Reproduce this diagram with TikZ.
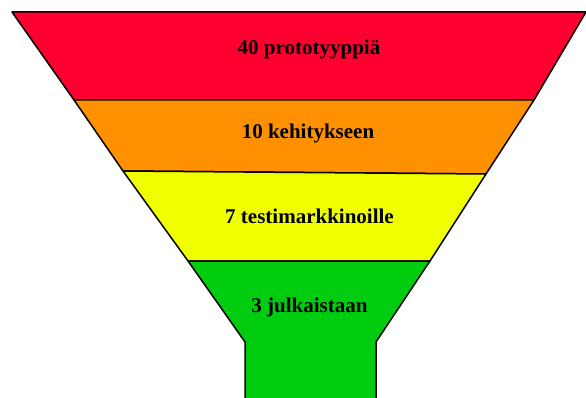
\documentclass[tikz,border=0pt]{standalone}
\usepackage{fontspec}
\setmainfont{Liberation Serif}
\definecolor{fRed}{HTML}{FF0030}
\definecolor{fOrange}{HTML}{FF9000}
\definecolor{fYellow}{HTML}{F0FF00}
\definecolor{fGreen}{HTML}{00CC10}
\tikzset{
  layer/.style={draw=black, line width=1.5pt, line join=round},
  lbl/.style={anchor=base, inner sep=0pt, font=\fontsize{21}{24}\selectfont\bfseries}
}
\begin{document}
\begin{tikzpicture}[x=1pt,y=-1pt]
\useasboundingbox (0,0) rectangle (586,398);
% red
\draw[layer, fill=fRed] (12,12) -- (586,12) -- (534,100) -- (74,100) -- cycle;
% orange
\draw[layer, fill=fOrange] (74,100) -- (534,100) -- (486,174) -- (123,171) -- cycle;
% yellow
\draw[layer, fill=fYellow] (123,171) -- (486,174) -- (430,261) -- (188,261) -- cycle;
% green
\draw[layer, fill=fGreen] (188,261) -- (430,261) -- (376,342) -- (376,400) -- (245,400) -- (245,342) -- cycle;
\node[lbl] (l1) at (309,55) {40 prototyyppiä};
\node[lbl] (l2) at (308,139) {10 kehitykseen};
\node[lbl] (l3) at (309.5,223) {7 testimarkkinoille};
\node[lbl] (l4) at (309.5,312) {3 julkaistaan};
\end{tikzpicture}
\end{document}
